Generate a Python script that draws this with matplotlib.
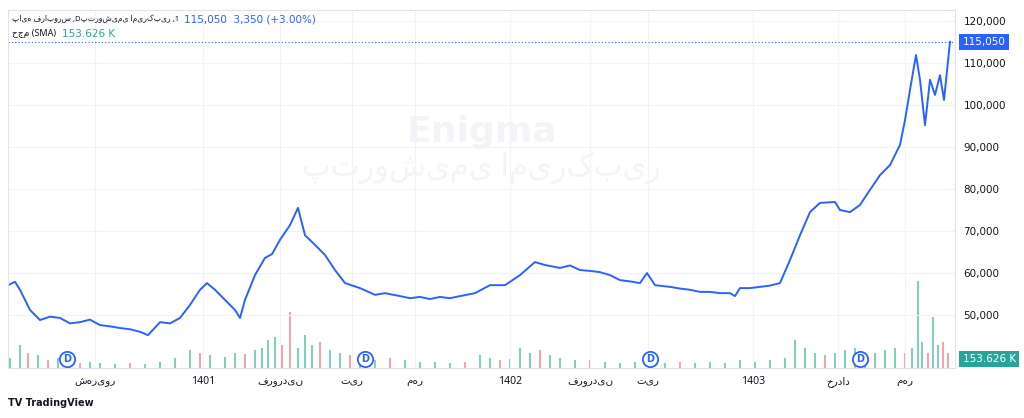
import numpy as np
import matplotlib.pyplot as plt

plt.rcParams['font.family'] = ['DejaVu Sans', 'Noto Sans']

# price line, x in chart time units
t = [8, 15, 20, 30, 40, 50, 60, 70, 80, 90, 100, 110, 120, 130, 140, 148, 155, 160, 170, 180, 190,
     200, 207, 215, 225, 235, 240, 245, 255, 265, 272, 280, 290, 298, 305, 315, 325, 335, 345, 360,
     375, 385, 400, 410, 420, 430, 440, 450, 460, 475, 490, 505, 520, 535, 545, 560, 570, 580, 590,
     600, 610, 620, 630, 640, 647, 655, 670, 680, 690, 700, 710, 720, 730, 735, 740, 750, 760, 770,
     780, 790, 800, 810, 820, 835, 840, 850, 860, 870, 880, 890, 900, 905, 910, 916, 920, 925, 930,
     935, 940, 944, 950]
price = [57100, 57900, 56000, 51200, 48800, 49600, 49300, 48000, 48300, 48900, 47600, 47300, 46900,
         46600, 46000, 45200, 47000, 48300, 48000, 49300, 52400, 56000, 57600, 56000, 53600, 51200,
         49300, 53600, 59500, 63600, 64500, 67900, 71400, 75500, 69000, 66700, 64300, 60700, 57600,
         56400, 54800, 55200, 54500, 54000, 54300, 53800, 54300, 54000, 54500, 55200, 57100, 57100,
         59500, 62600, 61900, 61200, 61800, 60700, 60500, 60200, 59500, 58300, 58000, 57600, 60000,
         57100, 56700, 56300, 56000, 55500, 55500, 55200, 55200, 54500, 56400, 56400, 56700, 57000,
         57600, 63100, 69000, 74500, 76700, 76900, 75000, 74500, 76200, 79800, 83300, 85700, 90500,
         96400, 103600, 111900, 106000, 95200, 106000, 102400, 107100, 101200, 115050]

# volume bars
vt = [10, 20, 28, 38, 48, 58, 70, 80, 90, 100, 115, 130, 145, 160, 175, 190, 200, 210, 225, 235, 245,
      255, 262, 268, 275, 282, 290, 298, 305, 312, 320, 330, 340, 350, 360, 375, 390, 405, 420, 435,
      450, 465, 480, 490, 500, 510, 520, 530, 540, 550, 560, 575, 590, 605, 620, 635, 650, 665, 680,
      695, 710, 725, 740, 755, 770, 785, 795, 805, 815, 825, 835, 845, 855, 865, 875, 885, 895, 905,
      912, 918, 922, 928, 933, 938, 943, 948]
vol = [20, 45, 30, 25, 15, 20, 12, 10, 12, 10, 8, 10, 8, 12, 20, 35, 30, 25, 22, 30, 28, 35, 40, 55,
       60, 45, 110, 40, 65, 45, 50, 35, 30, 25, 20, 15, 20, 15, 12, 12, 10, 12, 25, 20, 15, 18, 40, 30,
       35, 25, 20, 15, 15, 12, 10, 12, 15, 10, 12, 10, 12, 10, 15, 12, 15, 20, 55, 40, 30, 25, 30, 35,
       40, 25, 30, 35, 40, 30, 40, 170, 50, 30, 100, 45, 50, 30]
vup = [1, 1, 0, 1, 0, 1, 1, 0, 1, 1, 1, 0, 1, 1, 1, 1, 0, 1, 1, 1, 0, 1, 1, 1, 1, 0, 0, 1, 1, 1, 0, 1,
       1, 0, 1, 1, 0, 1, 1, 1, 1, 0, 1, 1, 0, 1, 1, 1, 0, 1, 1, 1, 0, 1, 1, 1, 1, 1, 0, 1, 1, 1, 1, 1,
       1, 1, 1, 1, 1, 0, 1, 1, 1, 1, 1, 1, 1, 0, 1, 1, 1, 0, 1, 1, 0, 0]

xlabels = ['شهریور', '1401', 'فروردین', 'تیر', 'مهر', '1402', 'فروردین', 'تیر', '1403', 'خرداد', 'مهر']
xlabel_pos = [95, 203, 280, 352, 415, 510, 590, 648, 753, 838, 905]
div_pos = [67, 365, 650, 860]
yticks = [50000, 60000, 70000, 80000, 90000, 100000, 110000, 120000]

fig = plt.figure(figsize=(10.24, 4.18), dpi=100)
ax = fig.add_axes([8/1024, 50/418, 947/1024, 358/418])
ax.set_xlim(8, 955)
ax.set_ylim(37381, 122619)

vax = ax.twinx()
vax.set_ylim(0, 700)
cols = ['#7fd1b9' if u else '#f4a3a8' for u in vup]
vax.bar(vt, vol, width=2, color=cols)
vax.set_yticks([])
vax.set_zorder(1)
ax.set_zorder(2)
ax.patch.set_visible(False)

ax.plot(t, price, color='#2962ff', lw=1.4)
ax.axhline(115050, color='#2962ff', lw=0.8, ls=(0, (1, 2)))

for x in div_pos:
    ax.plot(x, 39500, 'o', ms=11, mfc='white', mec='#2962ff', mew=1.3)
    ax.text(x, 39500, 'D', color='#2962ff', fontsize=7, ha='center', va='center', fontweight='bold')

ax.yaxis.tick_right()
ax.set_yticks(yticks)
ax.set_yticklabels([f'{v:,}' for v in yticks], fontsize=7.5, color='#131722')
ax.set_xticks(xlabel_pos)
ax.set_xticklabels(xlabels, fontsize=7.5, color='#131722', family=['Noto Sans', 'DejaVu Sans'])
ax.tick_params(length=0, pad=6)
ax.grid(color='#f0f3fa', lw=0.8)
for s in ax.spines.values():
    s.set_color('#e0e3eb')
for s in vax.spines.values():
    s.set_visible(False)

ax.text(1.008, (115050 - 37381) / (122619 - 37381), '115,050', transform=ax.transAxes, fontsize=7.5,
        color='white', va='center', bbox=dict(boxstyle='square,pad=0.3', fc='#2962ff', ec='none'))
ax.text(1.008, 0.025, '153.626 K', transform=ax.transAxes, fontsize=7.5, color='white', va='center',
        bbox=dict(boxstyle='square,pad=0.3', fc='#26a69a', ec='none'))

ax.text(0.5, 0.66, 'Enigma', transform=ax.transAxes, fontsize=26, color='#f3f4f7', ha='center',
        va='center', fontweight='bold', zorder=0)
ax.text(0.5, 0.56, 'پتروشیمی امیرکبیر', transform=ax.transAxes, fontsize=22, color='#f3f4f7',
        ha='center', va='center', family=['Noto Sans', 'DejaVu Sans'], zorder=0)

fig.text(12/1024, 1 - 19/418, 'پایه فرابورس ,Dپتروشیمی امیرکبیر ,1', fontsize=5.5, color='#131722',
         va='center', family=['Noto Sans', 'DejaVu Sans'])
fig.text(184/1024, 1 - 19/418, '115,050  3,350 (+3.00%)', fontsize=7.5, color='#2962ff', va='center')
fig.text(12/1024, 1 - 34/418, 'حجم (SMA)', fontsize=6.5, color='#131722', va='center',
         family=['Noto Sans', 'DejaVu Sans'])
fig.text(62/1024, 1 - 34/418, '153.626 K', fontsize=7.5, color='#26a69a', va='center')
fig.text(8/1024, 1 - 403/418, 'TV TradingView', fontsize=7, color='#131722', va='center', fontweight='bold')

fig.savefig('out.png', dpi=100)
